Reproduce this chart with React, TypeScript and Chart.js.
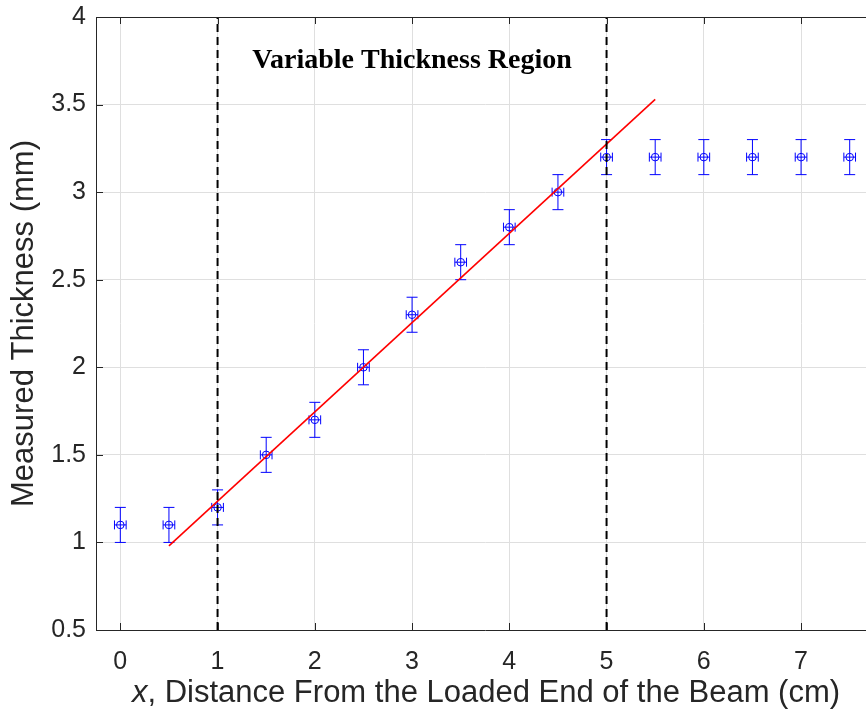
import React, { useEffect, useRef } from "react";
import { Chart, registerables } from "chart.js";

Chart.register(...registerables);

// ---- data ----
const xPositions = [0, 0.5, 1, 1.5, 2, 2.5, 3, 3.5, 4, 4.5, 5, 5.5, 6, 6.5, 7, 7.5];
const thickness = [1.1, 1.1, 1.2, 1.5, 1.7, 2.0, 2.3, 2.6, 2.8, 3.0, 3.2, 3.2, 3.2, 3.2, 3.2, 3.2];
const thicknessErr = [0.1, 0.1, 0.1, 0.1, 0.1, 0.1, 0.1, 0.1, 0.1, 0.1, 0.1, 0.1, 0.1, 0.1, 0.1, 0.1];
const positionErr = [0.06, 0.06, 0.06, 0.06, 0.06, 0.06, 0.06, 0.06, 0.06, 0.06, 0.06, 0.06, 0.06, 0.06, 0.06, 0.06];
const fitX = [0.5, 5.5];
const fitY = [0.98, 3.53];
const regionBounds = [1, 5];
const xTicks = [0, 1, 2, 3, 4, 5, 6, 7];
const yTicks = [0.5, 1, 1.5, 2, 2.5, 3, 3.5, 4];
const yTickLabels = ["0.5", "1", "1.5", "2", "2.5", "3", "3.5", "4"];
const xRange = [-0.25, 7.75];
const yRange = [0.5, 4];
const regionLabel = "Variable Thickness Region";
const regionLabelAt = [3, 3.71];
const xTitleItalic = "x";
const xTitleRest = ", Distance From the Loaded End of the Beam (cm)";
const yTitle = "Measured Thickness (mm)";

const SANS = "'Liberation Sans', Arial, Helvetica, sans-serif";
const SERIF = "'Liberation Serif', 'Times New Roman', serif";
const AXIS_COLOR = "#262626";
const BLUE = "#0000ff";

const CANVAS_W = 890;
const CANVAS_H = 717;

const decorPlugin = {
  id: "decor",
  beforeDatasetsDraw(chart: any) {
    const { ctx, scales } = chart;
    const xs = scales.x;
    const ys = scales.y;
    ctx.save();
    ctx.strokeStyle = BLUE;
    ctx.lineWidth = 1;
    for (let i = 0; i < xPositions.length; i++) {
      const px = xs.getPixelForValue(xPositions[i]);
      const py = ys.getPixelForValue(thickness[i]);
      const yTop = ys.getPixelForValue(thickness[i] + thicknessErr[i]);
      const yBot = ys.getPixelForValue(thickness[i] - thicknessErr[i]);
      const xL = xs.getPixelForValue(xPositions[i] - positionErr[i]);
      const xR = xs.getPixelForValue(xPositions[i] + positionErr[i]);
      const capW = 5.5;
      const capH = 4.5;
      ctx.beginPath();
      ctx.moveTo(px, yTop);
      ctx.lineTo(px, yBot);
      ctx.moveTo(px - capW, yTop);
      ctx.lineTo(px + capW, yTop);
      ctx.moveTo(px - capW, yBot);
      ctx.lineTo(px + capW, yBot);
      ctx.moveTo(xL, py);
      ctx.lineTo(xR, py);
      ctx.moveTo(xL, py - capH);
      ctx.lineTo(xL, py + capH);
      ctx.moveTo(xR, py - capH);
      ctx.lineTo(xR, py + capH);
      ctx.stroke();
    }
    ctx.restore();
  },
  afterDatasetsDraw(chart: any) {
    const { ctx, scales, chartArea } = chart;
    const xs = scales.x;
    const ys = scales.y;
    ctx.save();
    // top box line
    ctx.strokeStyle = AXIS_COLOR;
    ctx.lineWidth = 1;
    ctx.beginPath();
    ctx.moveTo(chartArea.left, chartArea.top + 0.5);
    ctx.lineTo(chartArea.right, chartArea.top + 0.5);
    ctx.stroke();
    // inward ticks
    const tl = 7;
    ctx.beginPath();
    for (const v of xTicks) {
      const px = Math.round(xs.getPixelForValue(v)) + 0.5;
      ctx.moveTo(px, chartArea.bottom);
      ctx.lineTo(px, chartArea.bottom - tl);
      ctx.moveTo(px, chartArea.top);
      ctx.lineTo(px, chartArea.top + tl);
    }
    for (const v of yTicks) {
      const py = Math.round(ys.getPixelForValue(v)) + 0.5;
      ctx.moveTo(chartArea.left, py);
      ctx.lineTo(chartArea.left + tl, py);
    }
    ctx.stroke();
    // region label
    ctx.fillStyle = "#000000";
    ctx.font = `bold 28px ${SERIF}`;
    ctx.textAlign = "center";
    ctx.textBaseline = "alphabetic";
    ctx.fillText(regionLabel, xs.getPixelForValue(regionLabelAt[0]), ys.getPixelForValue(regionLabelAt[1]));
    ctx.restore();
  },
  afterDraw(chart: any) {
    const { ctx, chartArea } = chart;
    ctx.save();
    ctx.fillStyle = AXIS_COLOR;
    ctx.textBaseline = "alphabetic";
    ctx.textAlign = "left";
    // x title
    const italicFont = `italic 31px ${SANS}`;
    const normalFont = `31px ${SANS}`;
    ctx.font = italicFont;
    const w1 = ctx.measureText(xTitleItalic).width;
    ctx.font = normalFont;
    const w2 = ctx.measureText(xTitleRest).width;
    const cx = (chartArea.left + 874) / 2 + 1;
    const start = cx - (w1 + w2) / 2;
    ctx.font = italicFont;
    ctx.fillText(xTitleItalic, start, 702);
    ctx.font = normalFont;
    ctx.fillText(xTitleRest, start + w1, 702);
    // y title
    ctx.translate(33, (chartArea.top + chartArea.bottom) / 2);
    ctx.rotate(-Math.PI / 2);
    ctx.textAlign = "center";
    ctx.font = normalFont;
    ctx.fillText(yTitle, 0, 0);
    ctx.restore();
  },
};

export default function App() {
  const canvasRef = useRef<HTMLCanvasElement | null>(null);

  useEffect(() => {
    const canvas = canvasRef.current;
    if (!canvas) return;
    const points = xPositions.map((x, i) => ({ x, y: thickness[i] }));
    const fit = fitX.map((x, i) => ({ x, y: fitY[i] }));
    const boundarySets = regionBounds.map((b) => ({
      type: "line" as const,
      data: [
        { x: b, y: yRange[0] },
        { x: b, y: yRange[1] },
      ],
      borderColor: "#000000",
      borderWidth: 2,
      borderDash: [8, 5],
      pointRadius: 0,
      fill: false,
    }));
    const chart = new Chart(canvas, {
      type: "scatter",
      data: {
        datasets: [
          ...boundarySets,
          {
            type: "line",
            data: fit,
            borderColor: "#ff0000",
            borderWidth: 1.6,
            pointRadius: 0,
            fill: false,
          },
          {
            type: "scatter",
            data: points,
            pointStyle: "circle",
            pointRadius: 3.8,
            borderColor: BLUE,
            backgroundColor: "rgba(0,0,0,0)",
            borderWidth: 1,
          },
        ] as any,
      },
      options: {
        animation: false,
        responsive: false,
        maintainAspectRatio: false,
        events: [],
        layout: { padding: { top: 17, right: CANVAS_W - 874, left: 0, bottom: 0 } },
        plugins: {
          legend: { display: false },
          tooltip: { enabled: false },
          title: { display: false },
        },
        scales: {
          x: {
            type: "linear",
            position: "bottom",
            min: xRange[0],
            max: xRange[1],
            afterBuildTicks: (s: any) => {
              s.ticks = xTicks.map((v) => ({ value: v }));
            },
            afterFit: (s: any) => {
              s.height = CANVAS_H - 630;
              s.paddingLeft = 0;
              s.paddingRight = 0;
            },
            grid: { color: "#dfdfdf", lineWidth: 1, drawTicks: false },
            border: { display: true, color: AXIS_COLOR, width: 1 },
            ticks: {
              font: { family: SANS, size: 25 },
              color: AXIS_COLOR,
              padding: 17,
              maxRotation: 0,
              autoSkip: false,
              callback: (v: any) => String(v),
            },
          },
          y: {
            type: "linear",
            min: yRange[0],
            max: yRange[1],
            afterBuildTicks: (s: any) => {
              s.ticks = yTicks.map((v) => ({ value: v }));
            },
            afterFit: (s: any) => {
              s.width = 96;
              s.paddingTop = 0;
              s.paddingBottom = 0;
            },
            grid: { color: "#dfdfdf", lineWidth: 1, drawTicks: false },
            border: { display: true, color: AXIS_COLOR, width: 1 },
            ticks: {
              font: { family: SANS, size: 25 },
              color: AXIS_COLOR,
              padding: 10,
              autoSkip: false,
              callback: (v: any) => {
                const i = yTicks.indexOf(Number(v));
                return i >= 0 ? yTickLabels[i] : String(v);
              },
            },
          },
        },
      } as any,
      plugins: [decorPlugin],
    });
    return () => chart.destroy();
  }, []);

  return (
    <div
      style={{
        position: "fixed",
        left: 0,
        top: 0,
        width: 866,
        height: 717,
        overflow: "hidden",
        background: "#ffffff",
      }}
    >
      <canvas
        ref={canvasRef}
        width={CANVAS_W}
        height={CANVAS_H}
        style={{ width: CANVAS_W, height: CANVAS_H, display: "block" }}
      />
    </div>
  );
}
